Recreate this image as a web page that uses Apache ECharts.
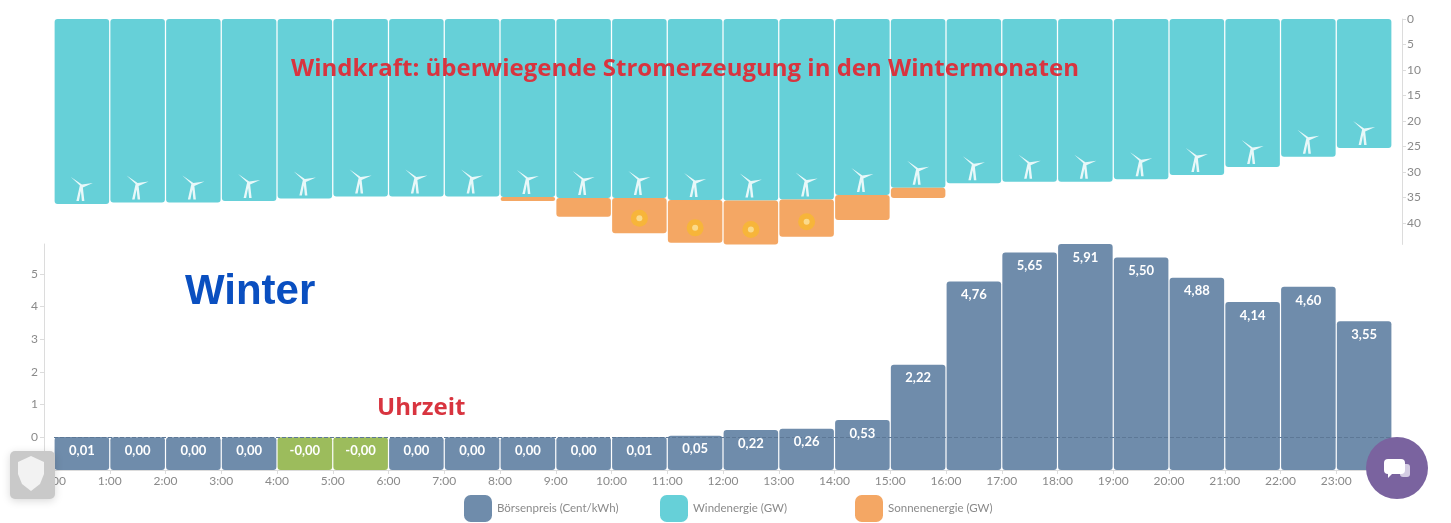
<!DOCTYPE html>
<html><head><meta charset="utf-8">
<style>html,body{margin:0;padding:0;background:#fff}#c{width:1451px;height:523px}</style>
<script src="https://cdn.jsdelivr.net/npm/echarts@6/dist/echarts.min.js"></script>
</head><body><div id="c"></div>
<script>
const hours = ['0:00','1:00','2:00','3:00','4:00','5:00','6:00','7:00','8:00','9:00','10:00','11:00','12:00','13:00','14:00','15:00','16:00','17:00','18:00','19:00','20:00','21:00','22:00','23:00'];
const price = [0.01,0,0,0,-0.001,-0.001,0,0,0,0,0.01,0.05,0.22,0.26,0.53,2.22,4.76,5.65,5.91,5.50,4.88,4.14,4.60,3.55];
const wind = [36.3,36,36,35.7,35.2,34.8,34.8,34.8,34.9,35.1,35.1,35.5,35.6,35.4,34.5,33.1,32.2,31.9,31.9,31.4,30.6,29,27,25.3];
const solar = [0,0,0,0,0,0,0,0,0.8,3.7,6.9,8.4,8.6,7.3,4.9,2,0,0,0,0,0,0,0,0];
const sunHours = [10,11,12,13];
const windTicks = [0,5,10,15,20,25,30,35,40];
const priceTicks = [0,1,2,3,4,5];
const seriesNames = ['Börsenpreis (Cent/kWh)','Windenergie (GW)','Sonnenenergie (GW)'];

const C = {price:'#6f8cab',neg:'#9cbc5c',wind:'#66d0d8',solar:'#f4a764',tick:'#8a8a8a',axis:'#dcdcdc'};
const FONT = 'Lato';
const turbine = 'path://M10 8.5 L1 0 L12 7.5 L23 6 L13 10.5 L14.5 24 L12 24 L11 14 L9 24 L6.5 24 L9.4 11 Z';
const legendStyle = {top:490,itemWidth:28,itemHeight:27,icon:'roundRect',textStyle:{color:'#8a8a8a',fontSize:11.5,fontFamily:FONT}};

const chart = echarts.init(document.getElementById('c'));
chart.setOption({
  animation:false,
  backgroundColor:'#fff',
  textStyle:{fontFamily:FONT},
  title:[
    {text:'Windkraft: überwiegende Stromerzeugung in den Wintermonaten',left:286,top:52,textStyle:{color:'#d8343f',fontSize:24,fontWeight:'bold',fontFamily:'Open Sans'}},
    {text:'Winter',left:180,top:266,textStyle:{color:'#0a4fc0',fontSize:42,fontWeight:'bold',fontFamily:'Liberation Sans'}},
    {text:'Uhrzeit',left:372,top:391,textStyle:{color:'#d8343f',fontSize:24,fontWeight:'bold',fontFamily:'Open Sans'}}
  ],
  legend:[
    Object.assign({data:[seriesNames[0]],left:459},legendStyle),
    Object.assign({data:[seriesNames[1]],left:655},legendStyle),
    Object.assign({data:[seriesNames[2]],left:850},legendStyle)
  ],
  grid:[
    {left:54,right:59,top:19,height:225.4},
    {left:54,right:59,top:244,height:226}
  ],
  xAxis:[
    {type:'category',gridIndex:0,data:hours,show:false},
    {type:'value',gridIndex:1,min:0,max:24,interval:1,
      axisLine:{show:true,onZero:false,lineStyle:{color:C.axis}},
      axisTick:{show:true,length:4,lineStyle:{color:C.axis}},
      splitLine:{show:false},
      axisLabel:{color:C.tick,fontSize:12,margin:5,showMaxLabel:false,formatter:v=>hours[v]||''}}
  ],
  yAxis:[
    {type:'value',gridIndex:0,inverse:true,position:'right',offset:10,min:0,max:44.2,
      axisLine:{show:true,lineStyle:{color:C.axis}},
      axisTick:{show:true,length:4,customValues:windTicks,lineStyle:{color:C.axis}},
      splitLine:{show:false},
      axisLabel:{color:C.tick,fontSize:12,margin:5,customValues:windTicks}},
    {type:'value',gridIndex:1,position:'left',offset:10,min:-1,max:5.91,
      axisLine:{show:true,onZero:false,lineStyle:{color:C.axis}},
      axisTick:{show:true,length:4,customValues:priceTicks,lineStyle:{color:C.axis}},
      splitLine:{show:false},
      axisLabel:{color:C.tick,fontSize:12,margin:6,customValues:priceTicks}}
  ],
  series:[
    {name:seriesNames[0],type:'custom',xAxisIndex:1,yAxisIndex:1,
      data:price.map((v,i)=>[i,v]),encode:{x:0,y:1},clip:false,z:2,
      itemStyle:{color:C.price},
      renderItem:(p,api)=>{
        const i=api.value(0),v=api.value(1);
        const a=api.coord([i,v]),b=api.coord([i+1,-1]);
        return {type:'rect',shape:{x:a[0]+0.6,y:a[1],width:b[0]-a[0]-1.2,height:b[1]-a[1],r:3},style:{fill:v<0?C.neg:C.price}};
      },
      markLine:{silent:true,symbol:'none',z:5,label:{show:false},
        lineStyle:{color:'#5d7896',type:'dashed',width:1},data:[{yAxis:0}]}
    },
    {name:'Preislabel',type:'custom',xAxisIndex:1,yAxisIndex:1,
      data:price.map((v,i)=>[i,v]),encode:{x:0,y:1},clip:false,z:7,silent:true,
      renderItem:(p,api)=>{
        const i=api.value(0),v=api.value(1);
        const a=api.coord([i,v]),b=api.coord([i+1,-1]);
        return {type:'text',style:{x:(a[0]+b[0])/2,y:a[1]+13.5,text:v.toFixed(2).replace('.',','),fill:'#fff',
          font:'bold 13px '+FONT,align:'center',verticalAlign:'middle'}};
      }
    },
    {name:seriesNames[1],type:'bar',xAxisIndex:0,yAxisIndex:0,stack:'e',data:wind,barWidth:54.5,
      itemStyle:{color:C.wind,borderRadius:3}},
    {name:seriesNames[2],type:'bar',xAxisIndex:0,yAxisIndex:0,stack:'e',data:solar,barWidth:54.5,
      itemStyle:{color:C.solar,borderRadius:3}},
    {name:'Windrad',type:'scatter',xAxisIndex:0,yAxisIndex:0,z:4,silent:true,
      data:wind.map((v,i)=>[i,v]),symbol:turbine,symbolSize:[22,24],symbolOffset:[0,-15],
      itemStyle:{color:'#fff',opacity:0.85}},
    {name:'Sonne',type:'scatter',xAxisIndex:0,yAxisIndex:0,z:4,silent:true,
      data:sunHours.map(i=>[i,wind[i]+solar[i]]),symbol:'circle',symbolSize:17,symbolOffset:[0,-15],
      itemStyle:{color:'#f7b92f'}},
    {name:'Sonnenkern',type:'scatter',xAxisIndex:0,yAxisIndex:0,z:5,silent:true,
      data:sunHours.map(i=>[i,wind[i]+solar[i]]),symbol:'circle',symbolSize:6,symbolOffset:[0,-15],
      itemStyle:{color:'#fbe3a0'}}
  ],
  graphic:[
    {type:'rect',z:50,shape:{x:10,y:451,width:45,height:48,r:5},style:{fill:'#c9c9c9',shadowBlur:8,shadowColor:'rgba(0,0,0,0.15)',shadowOffsetY:2}},
    {type:'polygon',z:51,shape:{points:[[31,456],[44,462],[44,474],[40,484],[31,491],[22,484],[18,474],[18,462]]},style:{fill:'#f2f2f2'}},
    {type:'circle',z:50,shape:{cx:1397,cy:468,r:31},style:{fill:'#7a639f'}},
    {type:'rect',z:51,shape:{x:1400,y:464,width:10,height:13,r:3},style:{fill:'#d4cce3'}},
    {type:'rect',z:52,shape:{x:1384,y:459,width:21,height:15,r:4},style:{fill:'#fff'}},
    {type:'polygon',z:52,shape:{points:[[1388,472],[1394,472],[1388,478]]},style:{fill:'#fff'}}
  ]
});
</script></body></html>
